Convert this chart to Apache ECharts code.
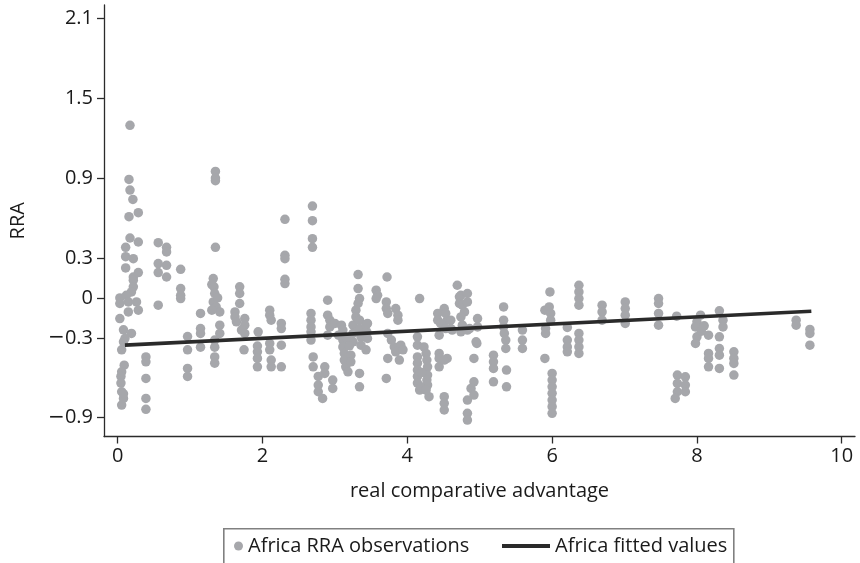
<!DOCTYPE html>
<html>
<head>
<meta charset="utf-8">
<script src="https://cdn.jsdelivr.net/npm/echarts@6/dist/echarts.min.js"></script>
<style>
html,body{margin:0;padding:0;background:#fff;}
#chart{width:860px;height:563px;}
</style>
</head>
<body>
<div id="chart"></div>
<script>
// ---- data ----
var seriesNames = ['Africa RRA observations', 'Africa fitted values'];
var xAxisTitle = 'real comparative advantage';
var yAxisTitle = 'RRA';
var xTickValues = [0, 2, 4, 6, 8, 10];
var yTickValues = [-0.9, -0.3, 0, 0.3, 0.9, 1.5, 2.1];

// observed RRA points [real comparative advantage, RRA]
var rraObservations = [
  [0.17,1.296],[0.156,0.89],[0.17,0.81],[0.21,0.74],[0.156,0.61],[0.285,0.64],[0.17,0.45],[0.285,0.42],
  [0.11,0.38],[0.11,0.31],[0.216,0.295],[0.11,0.225],[0.285,0.19],[0.216,0.157],[0.216,0.133],[0.216,0.083],
  [0.19,0.045],[0.03,0.0],[0.03,-0.042],[0.12,0.02],[0.147,-0.03],[0.26,-0.03],[0.285,-0.092],[0.147,-0.105],
  [0.03,-0.155],[0.08,-0.24],[0.19,-0.267],[0.1,-0.305],[0.08,-0.33],[0.055,-0.39],[0.09,-0.505],[0.055,-0.555],
  [0.045,-0.59],[0.045,-0.64],[0.055,-0.705],[0.08,-0.755],[0.055,-0.805],[0.08,-0.72],
  [0.39,-0.443],[0.39,-0.48],[0.39,-0.605],[0.39,-0.755],[0.39,-0.837],
  [0.56,0.415],[0.675,0.38],[0.675,0.345],[0.56,0.258],[0.675,0.245],[0.56,0.19],[0.675,0.157],[0.56,-0.055],
  [0.87,0.215],[0.87,0.07],[0.87,0.02],[0.87,-0.005],
  [0.965,-0.29],[0.965,-0.39],[0.965,-0.53],[0.965,-0.59],
  [1.144,-0.117],[1.144,-0.23],[1.144,-0.267],[1.144,-0.37],
  [1.35,0.95],[1.35,0.9],[1.35,0.88],[1.35,0.38],[1.32,0.145],[1.33,0.083],[1.34,0.033],[1.32,-0.03],
  [1.36,-0.068],[1.41,-0.105],[1.3,-0.092],[1.41,-0.205],[1.41,-0.267],[1.34,-0.317],[1.34,-0.37],
  [1.34,-0.443],[1.34,-0.49],[1.38,0.0],[1.3,0.1],
  [1.685,0.083],[1.685,0.033],[1.685,-0.042],[1.62,-0.105],[1.62,-0.143],[1.64,-0.18],[1.755,-0.155],
  [1.755,-0.205],[1.755,-0.267],[1.71,-0.242],[1.745,-0.39],
  [1.94,-0.255],[1.93,-0.362],[1.93,-0.405],[1.93,-0.455],[1.93,-0.518],
  [2.1,-0.092],[2.1,-0.13],[2.12,-0.167],[2.1,-0.342],[2.1,-0.39],[2.12,-0.467],[2.12,-0.518],
  [2.31,0.59],[2.31,0.32],[2.31,0.295],[2.31,0.14],[2.31,0.108],[2.26,-0.192],[2.26,-0.23],[2.26,-0.355],[2.26,-0.518],
  [2.69,0.69],[2.69,0.58],[2.69,0.445],[2.69,0.38],[2.67,-0.117],[2.67,-0.167],[2.67,-0.218],[2.67,-0.255],
  [2.67,-0.317],[2.7,-0.443],[2.7,-0.518],
  [2.77,-0.59],[2.77,-0.655],[2.77,-0.705],[2.83,-0.755],[2.86,-0.518],[2.86,-0.567],[2.97,-0.617],[2.97,-0.68],
  [2.9,-0.017],[2.9,-0.13],[2.93,-0.167],[2.93,-0.218],[2.9,-0.28],
  [3.0,-0.192],[3.09,-0.205],[3.11,-0.242],[3.11,-0.317],[3.11,-0.368],[3.13,-0.417],[3.13,-0.467],[3.15,-0.518],
  [3.18,-0.555],[3.22,-0.43],[3.22,-0.48],[3.25,-0.205],[3.25,-0.267],[3.25,-0.33],[3.05,-0.28],[3.16,-0.3],[3.2,-0.36],
  [3.32,0.175],[3.32,0.07],[3.34,-0.005],[3.32,-0.042],[3.29,-0.092],[3.29,-0.143],[3.34,-0.167],[3.34,-0.23],
  [3.36,-0.292],[3.36,-0.355],[3.34,-0.567],[3.34,-0.668],[3.43,-0.205],[3.44,-0.255],[3.45,-0.305],[3.43,-0.39],[3.45,-0.192],
  [3.57,0.058],[3.59,0.02],[3.72,0.157],[3.71,-0.03],[3.71,-0.08],[3.73,-0.117],[3.84,-0.08],[3.87,-0.13],
  [3.87,-0.167],[3.73,-0.267],[3.78,-0.317],[3.82,-0.368],[3.84,-0.405],[3.89,-0.467],[3.73,-0.455],[3.71,-0.605],
  [3.91,-0.355],[3.94,-0.39],[3.57,-0.005],
  [4.17,-0.005],[4.14,-0.292],[4.14,-0.355],[4.14,-0.443],[4.14,-0.49],[4.14,-0.542],[4.14,-0.59],[4.14,-0.64],
  [4.17,-0.692],[4.23,-0.368],[4.26,-0.417],[4.28,-0.518],[4.28,-0.58],[4.28,-0.655],[4.30,-0.742],[4.19,-0.668],
  [4.26,-0.692],[4.27,-0.467],[4.27,-0.617],[4.2,-0.56],
  [4.42,-0.117],[4.42,-0.167],[4.44,-0.28],[4.44,-0.417],[4.44,-0.455],[4.44,-0.518],[4.55,-0.455],[4.51,-0.08],
  [4.53,-0.117],[4.55,-0.167],[4.51,-0.742],[4.51,-0.792],[4.51,-0.842],[4.6,-0.167],[4.6,-0.23],[4.62,-0.242],
  [4.46,-0.192],[4.53,-0.23],[4.51,-0.467],
  [4.69,0.095],[4.72,0.008],[4.72,-0.042],[4.74,0.02],[4.76,-0.055],[4.83,0.033],[4.83,-0.03],[4.79,-0.105],
  [4.74,-0.143],[4.76,-0.205],[4.74,-0.255],[4.86,-0.23],[4.97,-0.155],[4.97,-0.218],[4.96,-0.342],[4.92,-0.455],
  [4.92,-0.63],[4.88,-0.68],[4.92,-0.73],[4.83,-0.767],[4.83,-0.867],[4.83,-0.918],[4.83,-0.242],[4.95,-0.33],
  [5.19,-0.43],[5.19,-0.48],[5.19,-0.53],[5.19,-0.63],[5.33,-0.068],[5.33,-0.167],[5.33,-0.218],[5.34,-0.267],
  [5.36,-0.317],[5.36,-0.38],[5.37,-0.542],[5.37,-0.668],
  [5.59,-0.242],[5.59,-0.317],[5.59,-0.38],
  [5.9,-0.092],[5.96,-0.068],[5.97,0.045],[5.98,-0.117],[5.98,-0.167],[5.91,-0.23],[5.91,-0.267],[5.9,-0.455],
  [6.0,-0.567],[6.0,-0.617],[6.0,-0.668],[6.0,-0.717],[6.0,-0.767],[6.0,-0.817],[6.0,-0.867],
  [6.21,-0.222],[6.21,-0.317],[6.21,-0.368],[6.21,-0.405],
  [6.37,0.095],[6.37,0.045],[6.37,-0.005],[6.37,-0.055],[6.37,-0.267],[6.37,-0.317],[6.37,-0.368],[6.37,-0.417],
  [6.69,-0.055],[6.69,-0.105],[6.69,-0.167],
  [7.01,-0.03],[7.01,-0.08],[7.01,-0.13],[7.01,-0.192],
  [7.47,-0.005],[7.47,-0.042],[7.47,-0.117],[7.47,-0.205],
  [7.72,-0.137],[7.73,-0.58],[7.84,-0.593],[7.73,-0.642],[7.84,-0.655],[7.73,-0.705],[7.84,-0.705],[7.70,-0.755],
  [8.05,-0.13],[8.0,-0.18],[7.98,-0.218],[8.0,-0.292],[7.98,-0.342],[8.16,-0.28],[8.16,-0.417],[8.16,-0.455],[8.16,-0.518],
  [8.31,-0.097],[8.36,-0.167],[8.36,-0.218],[8.31,-0.292],[8.31,-0.38],[8.31,-0.43],[8.31,-0.53],
  [8.51,-0.405],[8.51,-0.455],[8.51,-0.492],[8.51,-0.58],[8.06,-0.25],[8.1,-0.21],
  [9.37,-0.167],[9.37,-0.205],[9.56,-0.237],[9.56,-0.267],[9.56,-0.355]
];

// fitted regression line endpoints
var fittedValues = [[0.1, -0.355], [9.58, -0.10]];

// ---- chart ----
var FONT = 'Open Sans';
var FS = 20;
function fmtY(v) {
  if (v < 0) return '{m|\u2212}' + String(Math.abs(v));
  return String(v);
}
var chart = echarts.init(document.getElementById('chart'), null, {renderer: 'canvas'});
chart.setOption({
  backgroundColor: '#ffffff',
  animation: false,
  grid: {left: 102, right: 5, top: 5, bottom: 126.5, containLabel: false},
  xAxis: {
    type: 'value', min: -0.189, max: 10.183,
    name: xAxisTitle, nameLocation: 'middle', nameGap: 45,
    nameTextStyle: {fontFamily: FONT, fontSize: FS, color: '#1a1a1a'},
    axisLine: {show: true, onZero: false, lineStyle: {color: '#2b2b2b', width: 1.3}},
    axisTick: {show: true, length: 7, customValues: xTickValues, lineStyle: {color: '#2b2b2b', width: 1.3}},
    axisLabel: {customValues: xTickValues, margin: 10, fontFamily: FONT, fontSize: FS, color: '#1a1a1a'},
    splitLine: {show: false}
  },
  yAxis: {
    type: 'value', min: -1.041, max: 2.2,
    name: yAxisTitle, nameLocation: 'middle', nameGap: 76, nameRotate: 90,
    nameTextStyle: {fontFamily: FONT, fontSize: FS, color: '#1a1a1a'},
    axisLine: {show: true, onZero: false, lineStyle: {color: '#2b2b2b', width: 1.3}},
    axisTick: {show: true, length: 7, customValues: yTickValues, lineStyle: {color: '#2b2b2b', width: 1.3}},
    axisLabel: {
      customValues: yTickValues, margin: 11, fontFamily: FONT, fontSize: FS, color: '#1a1a1a', formatter: fmtY,
      rich: {m: {fontFamily: 'DejaVu Sans', fontSize: FS, color: '#1a1a1a'}}
    },
    splitLine: {show: false}
  },
  legend: [
    {
      data: [{name: seriesNames[0], icon: 'circle'}],
      left: 234, top: 536, padding: 0, itemWidth: 9, itemHeight: 9,
      textStyle: {fontFamily: FONT, fontSize: FS, color: '#1a1a1a'}
    },
    {
      data: [{name: seriesNames[1], icon: 'rect'}],
      left: 502, top: 536, padding: 0, itemWidth: 48, itemHeight: 4,
      textStyle: {fontFamily: FONT, fontSize: FS, color: '#1a1a1a'}
    }
  ],
  graphic: [{
    type: 'rect', left: 223, top: 528, z: -1,
    shape: {width: 510, height: 60},
    style: {fill: '#fff', stroke: '#808080', lineWidth: 1.6}
  }],
  series: [
    {
      name: seriesNames[0], type: 'scatter', data: rraObservations,
      symbol: 'circle', symbolSize: 9.5,
      itemStyle: {color: '#a6a7ab', opacity: 1}
    },
    {
      name: seriesNames[1], type: 'line', data: fittedValues,
      symbol: 'none', z: 3,
      lineStyle: {color: '#2a2a2a', width: 3.6},
      itemStyle: {color: '#2a2a2a'}
    }
  ]
});
</script>
</body>
</html>
